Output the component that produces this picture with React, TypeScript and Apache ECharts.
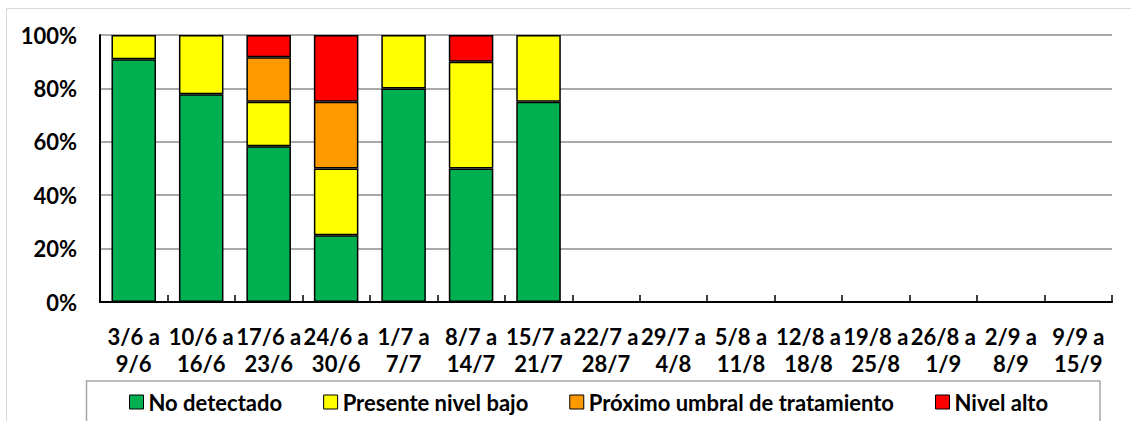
import React, { useEffect, useRef } from "react";
import * as echarts from "echarts";

const categories = [
  "3/6 a\n9/6", "10/6 a\n16/6", "17/6 a\n23/6", "24/6 a\n30/6", "1/7 a\n7/7",
  "8/7 a\n14/7", "15/7 a\n21/7", "22/7 a\n28/7", "29/7 a\n4/8", "5/8 a\n11/8",
  "12/8 a\n18/8", "19/8 a\n25/8", "26/8 a\n1/9", "2/9 a\n8/9", "9/9 a\n15/9",
];
const noDetectado = [90.9, 77.8, 58.3, 25, 80, 50, 75, null, null, null, null, null, null, null, null];
const presenteBajo = [9.1, 22.2, 16.7, 25, 20, 40, 25, null, null, null, null, null, null, null, null];
const proximoUmbral = [null, null, 16.7, 25, null, null, null, null, null, null, null, null, null, null, null];
const nivelAlto = [null, null, 8.3, 25, null, 10, null, null, null, null, null, null, null, null, null];
const seriesNames = ["No detectado", "Presente nivel bajo", "Próximo umbral de tratamiento", "Nivel alto"];
const seriesColors = ["#00B050", "#FFFF00", "#FF9900", "#FF0000"];
const yTicks = [0, 20, 40, 60, 80, 100];

const FONT = "Lato";

export default function App() {
  const ref = useRef<HTMLDivElement>(null);
  useEffect(() => {
    if (!ref.current) return;
    const chart = echarts.init(ref.current, null, { renderer: "svg" });
    const datasets = [noDetectado, presenteBajo, proximoUmbral, nivelAlto];
    chart.setOption({
      animation: false,
      backgroundColor: "#ffffff",
      grid: { left: 100, right: 19, top: 35, bottom: 119, containLabel: false },
      graphic: [
        {
          type: "rect",
          shape: { x: 6.5, y: 8.5, width: 1140, height: 440 },
          style: { fill: "none", stroke: "#d9d9d9", lineWidth: 1 },
          silent: true,
          z: -10,
        },
        {
          type: "rect",
          shape: { x: 86.5, y: 381, width: 1013.5, height: 60 },
          style: { fill: "none", stroke: "#a6a6a6", lineWidth: 1.5 },
          silent: true,
        },
      ],
      legend: {
        left: 124,
        top: 386,
        itemWidth: 14,
        itemHeight: 14,
        itemGap: 41,
        icon: "rect",
        selectedMode: false,
        data: seriesNames,
        itemStyle: { borderColor: "#000", borderWidth: 1 },
        textStyle: { fontFamily: FONT, fontWeight: "bold", fontSize: 22, color: "#000" },
      },
      xAxis: {
        type: "category",
        data: categories,
        axisLine: { show: true, lineStyle: { color: "#000", width: 2 } },
        axisTick: { show: true, inside: true, length: 7, alignWithLabel: false, lineStyle: { color: "#000", width: 1.5 } },
        axisLabel: {
          interval: 0,
          margin: 21,
          fontFamily: FONT,
          fontWeight: "bold",
          fontSize: 22,
          lineHeight: 27,
          color: "#000",
        },
      },
      yAxis: {
        type: "value",
        min: 0,
        max: 100,
        interval: 20,
        axisLine: { show: true, lineStyle: { color: "#000", width: 2 } },
        axisTick: { show: false },
        splitLine: { show: true, lineStyle: { color: "#8c8c8c", width: 1.5 } },
        axisLabel: {
          margin: 23,
          fontFamily: FONT,
          fontWeight: "bold",
          fontSize: 22,
          color: "#000",
          formatter: (v: number) => (yTicks.includes(v) ? v + "%" : ""),
        },
      },
      series: seriesNames.map((name, i) => ({
        name,
        type: "bar",
        stack: "total",
        barCategoryGap: "34%",
        data: datasets[i],
        itemStyle: { color: seriesColors[i], borderColor: "#000", borderWidth: 1.5 },
      })),
    });
    return () => chart.dispose();
  }, []);
  return <div ref={ref} style={{ position: "absolute", left: 0, top: 0, width: 1131, height: 421 }} />;
}
